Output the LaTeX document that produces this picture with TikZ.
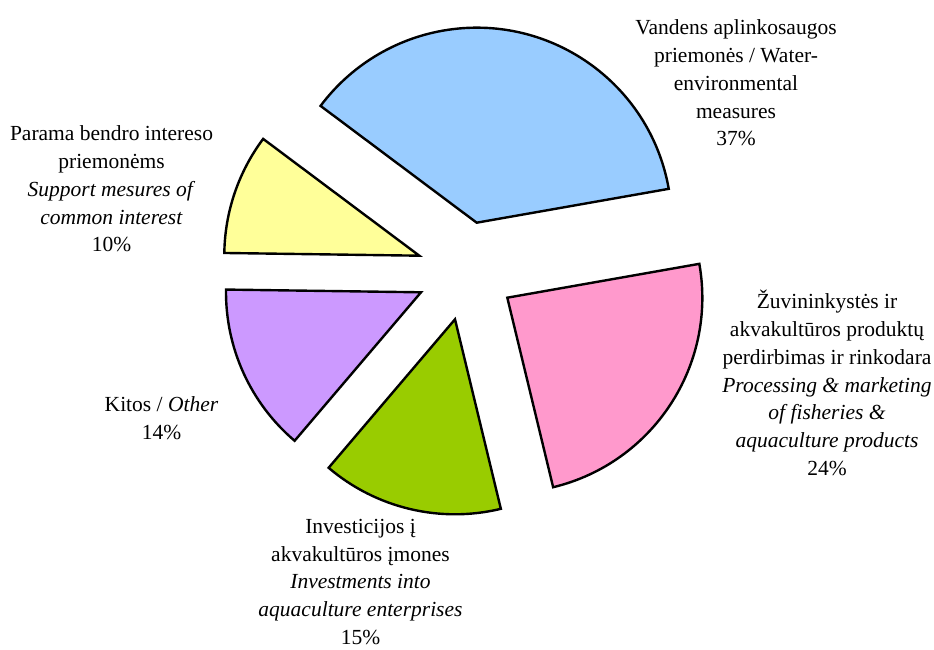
\documentclass[tikz,border=0pt]{standalone}
\usepackage{fontspec}
\setmainfont{Liberation Serif}
\definecolor{cblue}{HTML}{99CCFF}
\definecolor{cyellow}{HTML}{FFFF99}
\definecolor{cpurple}{HTML}{CC99FF}
\definecolor{cgreen}{HTML}{99CC00}
\definecolor{cpink}{HTML}{FF99CC}
\newcommand\pslice[5]{\filldraw[slice, fill=#5] (#1,#2) -- ++(#3:195) arc[start angle=#3, end angle=#4, radius=195] -- cycle;}
\begin{document}
\begin{tikzpicture}[x=1pt,y=1pt,
  slice/.style={draw=black, line width=2.4pt, line join=miter},
  lbl/.style={align=center, font=\fontsize{21.5}{27.7}\selectfont, inner sep=0pt}]
\useasboundingbox (0,0) rectangle (934,650);
% slices
\pslice{476.7}{427.3}{10}{143.2}{cblue}
\pslice{419.3}{394.3}{143.2}{179.2}{cyellow}
\pslice{421}{357.7}{179.2}{229.6}{cpurple}
\pslice{455}{330.7}{229.6}{283.6}{cgreen}
\pslice{507.3}{352.3}{283.6}{370}{cpink}
% labels
\node[lbl] (lblue) at (736,567) {Vandens aplinkosaugos\\priemonės / Water-\\environmental\\measures\\37\%};
\node[lbl] (lyellow) at (111.5,461) {Parama bendro intereso\\priemonėms\\\textit{Support mesures of}\\\textit{common interest}\\10\%};
\node[lbl] (lpurple) at (161.5,231.5) {Kitos / \textit{Other}\\14\%};
\node[lbl] (lgreen) at (360.5,68) {Investicijos į\\akvakultūros įmones\\\textit{Investments into}\\\textit{aquaculture enterprises}\\15\%};
\node[lbl] (lpink) at (827,267) {Žuvininkystės ir\\akvakultūros produktų\\perdirbimas ir rinkodara\\\textit{Processing \& marketing}\\\textit{of fisheries \&}\\\textit{aquaculture products}\\24\%};
\end{tikzpicture}
\end{document}
